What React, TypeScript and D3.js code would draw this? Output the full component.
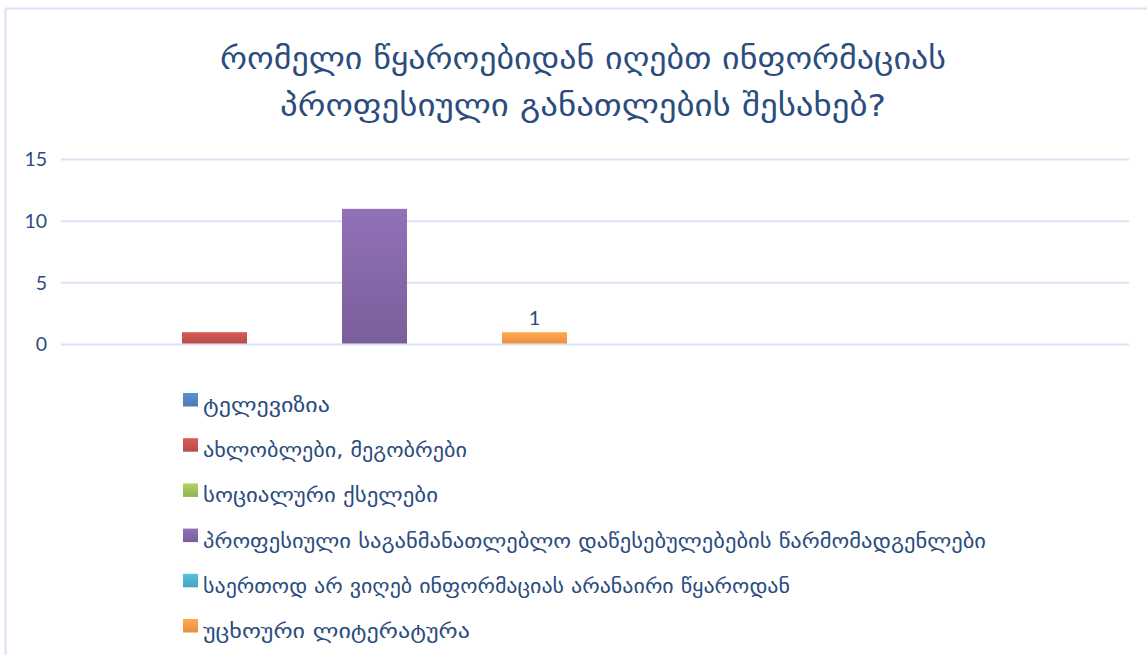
import React from "react";
import * as d3 from "d3";

const titleLines = [
  "რომელი წყაროებიდან იღებთ ინფორმაციას",
  "პროფესიული განათლების შესახებ?",
];
const seriesNames = [
  "ტელევიზია",
  "ახლობლები, მეგობრები",
  "სოციალური ქსელები",
  "პროფესიული საგანმანათლებლო დაწესებულებების წარმომადგენლები",
  "საერთოდ არ ვიღებ ინფორმაციას არანაირი წყაროდან",
  "უცხოური ლიტერატურა",
];
const seriesValues = [0, 1, 0, 11, 0, 1];
const seriesShowLabel = [false, false, false, false, false, true];
const seriesColors = ["#4f81bd", "#c0504d", "#9bbb59", "#8064a2", "#4bacc6", "#f79646"];
const yTicks = [0, 5, 10, 15];

const W = 1147;
const H = 655;
const plotLeft = 61;
const plotRight = 1129;
const titleWidths = [726, 606];
const legendWidths = [127, 264, 235, 783, 587, 267];

export default function App() {
  const y = d3.scaleLinear().domain([0, 15]).range([344.5, 159.5]);
  const x = d3
    .scaleBand<string>()
    .domain(seriesNames)
    .range([94.5, 574.5])
    .paddingInner(0.1875)
    .paddingOuter(0.09375);

  const textColor = "#2b4c7e";
  const gridColor = "#d9e2f3";

  return (
    <svg
      width={W}
      height={H}
      style={{ position: "absolute", left: 0, top: 0, background: "#fff" }}
    >
      <defs>
        {seriesColors.map((c, i) => {
          const top = d3.color(c)!.brighter(0.35).formatHex();
          return (
            <linearGradient key={i} id={`g${i}`} x1="0" y1="0" x2="0" y2="1">
              <stop offset="0%" stopColor={top} />
              <stop offset="100%" stopColor={d3.color(c)!.darker(0.15).formatHex()} />
            </linearGradient>
          );
        })}
      </defs>
      {/* chart border */}
      <line x1={5.5} x2={W} y1={8.5} y2={8.5} stroke={gridColor} strokeWidth={2} />
      <line x1={5.5} x2={5.5} y1={8.5} y2={H} stroke={gridColor} strokeWidth={2} />

      {/* title */}
      {titleLines.map((t, i) => (
        <text
          key={i}
          x={583}
          y={69 + i * 47}
          textAnchor="middle"
          fontFamily="'DejaVu Sans', sans-serif"
          fontSize={30}
          fill={textColor}
          textLength={titleWidths[i]}
          lengthAdjust="spacingAndGlyphs"
        >
          {t}
        </text>
      ))}

      {/* gridlines & y labels */}
      {yTicks.map((t) => (
        <g key={t}>
          <line
            x1={plotLeft}
            x2={plotRight}
            y1={y(t)}
            y2={y(t)}
            stroke={gridColor}
            strokeWidth={2}
          />
          <text
            x={47}
            y={y(t)}
            dy="0.35em"
            textAnchor="end"
            fontFamily="Lato, 'Open Sans', sans-serif"
            fontSize={19.5}
            fill={textColor}
          >
            {t}
          </text>
        </g>
      ))}

      {/* bars */}
      {seriesNames.map((s, i) => {
        const v = seriesValues[i];
        if (v <= 0) return null;
        const x0 = x(s)!;
        return (
          <g key={s}>
            <rect
              x={x0}
              y={y(v)}
              width={x.bandwidth()}
              height={y(0) - y(v) - 1}
              fill={`url(#g${i})`}
            />
            {seriesShowLabel[i] && (
              <text
                x={x0 + x.bandwidth() / 2}
                y={y(v) - 7}
                textAnchor="middle"
                fontFamily="Lato, 'Open Sans', sans-serif"
                fontSize={20}
                fill={textColor}
              >
                {v}
              </text>
            )}
          </g>
        );
      })}

      {/* legend */}
      {seriesNames.map((s, i) => {
        const base = 412 + i * 45.2;
        return (
          <g key={s}>
            <rect x={183} y={base - 19} width={15} height={13.5} fill={`url(#g${i})`} />
            <text
              x={203}
              y={base}
              fontFamily="'DejaVu Sans', sans-serif"
              fontSize={19}
              fill={textColor}
              textLength={legendWidths[i]}
              lengthAdjust="spacingAndGlyphs"
            >
              {s}
            </text>
          </g>
        );
      })}
    </svg>
  );
}
